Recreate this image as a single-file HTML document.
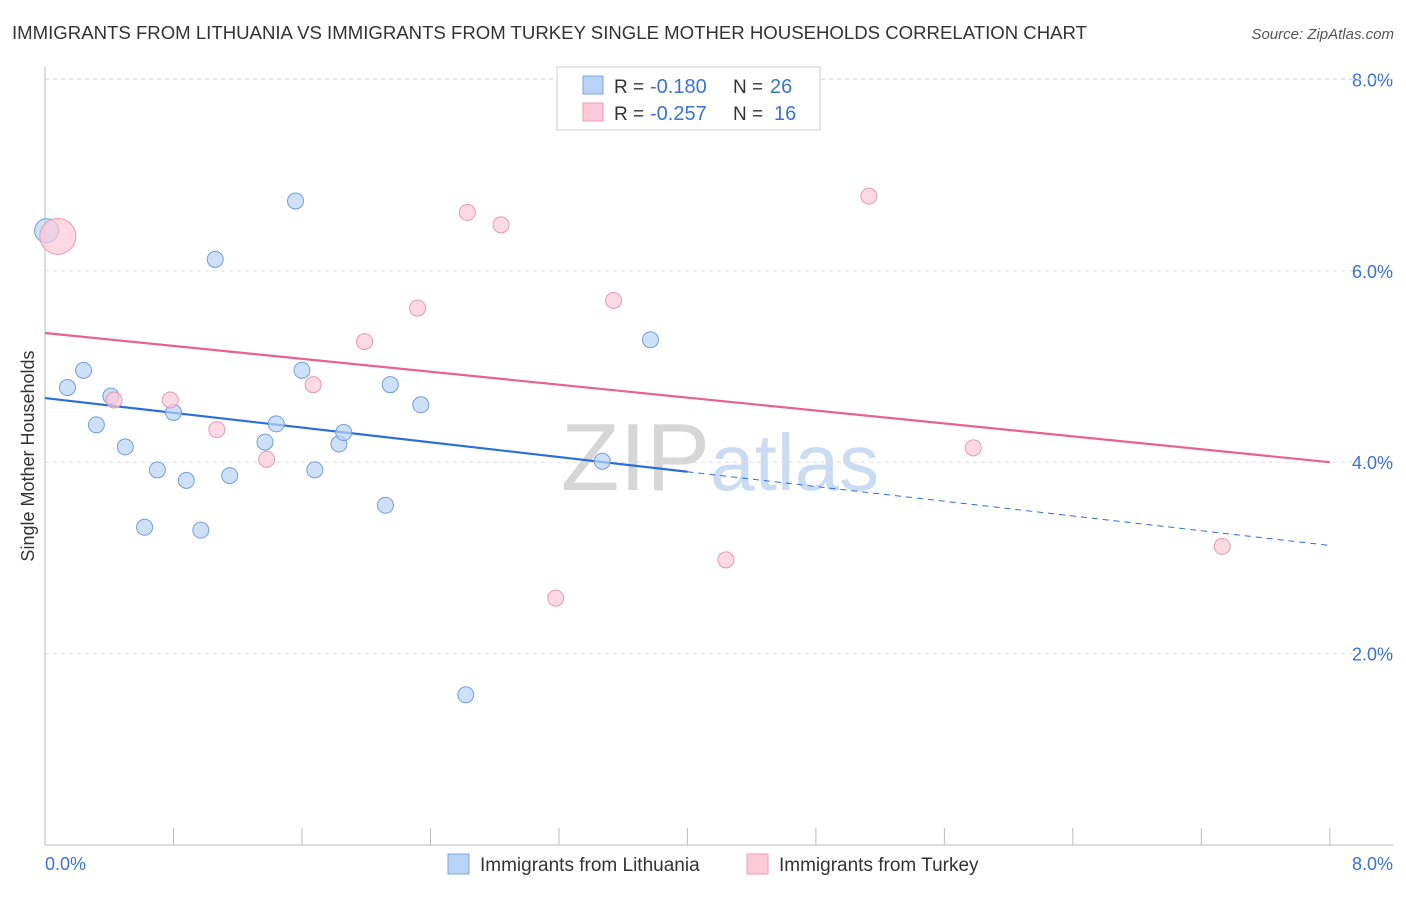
<!DOCTYPE html>
<html><head><meta charset="utf-8">
<style>
body{margin:0;background:#fff;font-family:"Liberation Sans",sans-serif;}
svg text{font-family:"Liberation Sans",sans-serif;}
</style></head>
<body>
<svg id="chart" width="1406" height="892" xmlns="http://www.w3.org/2000/svg">
<text x="12" y="39" font-size="18" fill="#333" textLength="1075" lengthAdjust="spacingAndGlyphs">IMMIGRANTS FROM LITHUANIA VS IMMIGRANTS FROM TURKEY SINGLE MOTHER HOUSEHOLDS CORRELATION CHART</text>
<text x="1394" y="39" font-size="15" fill="#555" font-style="italic" text-anchor="end">Source: ZipAtlas.com</text>
<text x="720" y="490" font-size="96" text-anchor="middle" fill="#ddd" font-family="Liberation Serif"><tspan fill="#d6d6d6">ZIP</tspan><tspan fill="#c9dcf2" font-family="Liberation Sans" font-size="80">atlas</tspan></text>
<g id="grid"></g>
<g id="axes"></g>
<g id="trends"></g>
<g id="points"></g>
<text transform="translate(34,456) rotate(-90)" font-size="18" fill="#333" text-anchor="middle">Single Mother Households</text>
<text x="45" y="870" font-size="18" fill="#3b73d1">0.0%</text>
<text x="1393" y="870" font-size="18" fill="#3b73d1" text-anchor="end">8.0%</text>
<g>
<rect x="557" y="67" width="263" height="63" fill="#fff" stroke="#ccc"/>
<rect x="583" y="76" width="20" height="18" fill="#b9d3f5" stroke="#7aa6e0"/>
<rect x="583" y="103" width="20" height="18" fill="#fcc9d8" stroke="#ec9db5"/>
<text x="614" y="93" font-size="19" fill="#333">R =</text>
<text x="650" y="93" font-size="20" fill="#3b73d1">-0.180</text>
<text x="733" y="93" font-size="19" fill="#333">N =</text>
<text x="770" y="93" font-size="20" fill="#3b73d1">26</text>
<text x="614" y="120" font-size="19" fill="#333">R =</text>
<text x="650" y="120" font-size="20" fill="#3b73d1">-0.257</text>
<text x="733" y="120" font-size="19" fill="#333">N =</text>
<text x="774" y="120" font-size="20" fill="#3b73d1">16</text>
</g>
<g>
<rect x="448" y="854" width="21" height="20" fill="#b9d3f5" stroke="#7aa6e0"/>
<text x="480" y="871" font-size="19" fill="#333">Immigrants from Lithuania</text>
<rect x="747" y="854" width="21" height="20" fill="#fcc9d8" stroke="#ec9db5"/>
<text x="779" y="871" font-size="19" fill="#333">Immigrants from Turkey</text>
</g>
</svg>
<script>
const blueX=[0.01,0.14,0.24,0.32,0.41,0.50,0.62,0.70,0.80,0.88,0.97,1.06,1.15,1.37,1.44,1.56,1.60,1.68,1.83,1.86,2.12,2.15,2.34,2.62,3.47,3.77];
const blueY=[6.42,4.78,4.96,4.39,4.69,4.16,3.32,3.92,4.52,3.81,3.29,6.12,3.86,4.21,4.40,6.73,4.96,3.92,4.19,4.31,3.55,4.81,4.60,1.57,4.01,5.28];
const pinkX=[0.08,0.43,0.78,1.07,1.38,1.67,1.99,2.32,2.63,2.84,3.18,3.54,4.24,5.13,5.78,7.33];
const pinkY=[6.36,4.65,4.65,4.34,4.03,4.81,5.26,5.61,6.61,6.48,2.58,5.69,2.98,6.78,4.15,3.12];
const blueTrend=[4.67,3.13];
const pinkTrend=[5.35,4.00];
const blueSolidEnd=4.0;
const yTicks=[2,4,6,8];
const yTickLabels=["2.0%","4.0%","6.0%","8.0%"];
const xTicks=[0,0.8,1.6,2.4,3.2,4.0,4.8,5.6,6.4,7.2,8.0];
const NS="http://www.w3.org/2000/svg";
const sx=v=>45+v*160.6, sy=v=>845-v*95.7;
function mk(tag,attrs,parent){const e=document.createElementNS(NS,tag);for(const k in attrs)e.setAttribute(k,attrs[k]);document.getElementById(parent).appendChild(e);return e;}
yTicks.forEach((t,i)=>{
 const l=mk('line',{x1:45,x2:1393,y1:sy(t),y2:sy(t),stroke:'#ddd','stroke-dasharray':'4,4'},'grid');
 
 
 const tx=mk('text',{x:1393,y:sy(t)+7,'font-size':18,fill:'#3b73d1','text-anchor':'end'},'grid');
 tx.textContent=yTickLabels[i];
 
 
});
const topGrid=mk('line',{x1:45,x2:1393,y1:79,y2:79,stroke:'#ddd','stroke-dasharray':'4,4'},'grid');


const xa=mk('line',{x1:45,x2:1393,y1:845,y2:845,stroke:'#bbb'},'axes');


const ya=mk('line',{x1:45,x2:45,y1:67,y2:845,stroke:'#bbb'},'axes');


xTicks.forEach(t=>{
 const l=mk('line',{x1:sx(t),x2:sx(t),y1:828,y2:845,stroke:'#bbb'},'axes');
 
 
});
const by=x=>blueTrend[0]+(blueTrend[1]-blueTrend[0])*x/8;
const py=x=>pinkTrend[0]+(pinkTrend[1]-pinkTrend[0])*x/8;
const t1=mk('line',{x1:sx(0),y1:sy(by(0)),x2:sx(blueSolidEnd),y2:sy(by(blueSolidEnd)),stroke:'#2a6fd8','stroke-width':2.2},'trends');


const t2=mk('line',{x1:sx(blueSolidEnd),y1:sy(by(blueSolidEnd)),x2:sx(8),y2:sy(by(8)),stroke:'#2a6fd8','stroke-width':1,'stroke-dasharray':'6,5'},'trends');


const t3=mk('line',{x1:sx(0),y1:sy(py(0)),x2:sx(8),y2:sy(py(8)),stroke:'#e8628f','stroke-width':2.2},'trends');


blueX.forEach((x,i)=>{
 const c=mk('circle',{cx:sx(x),cy:sy(blueY[i]),r:i===0?12:8,fill:'#b9d3f5','fill-opacity':0.7,stroke:'#6f9fdc','stroke-width':1},'points');
 
 
});
pinkX.forEach((x,i)=>{
 const c=mk('circle',{cx:sx(x),cy:sy(pinkY[i]),r:i===0?18:8,fill:'#fcc9d8','fill-opacity':0.7,stroke:'#ea97b1','stroke-width':1},'points');
 
 
});
</script>
</body></html>
